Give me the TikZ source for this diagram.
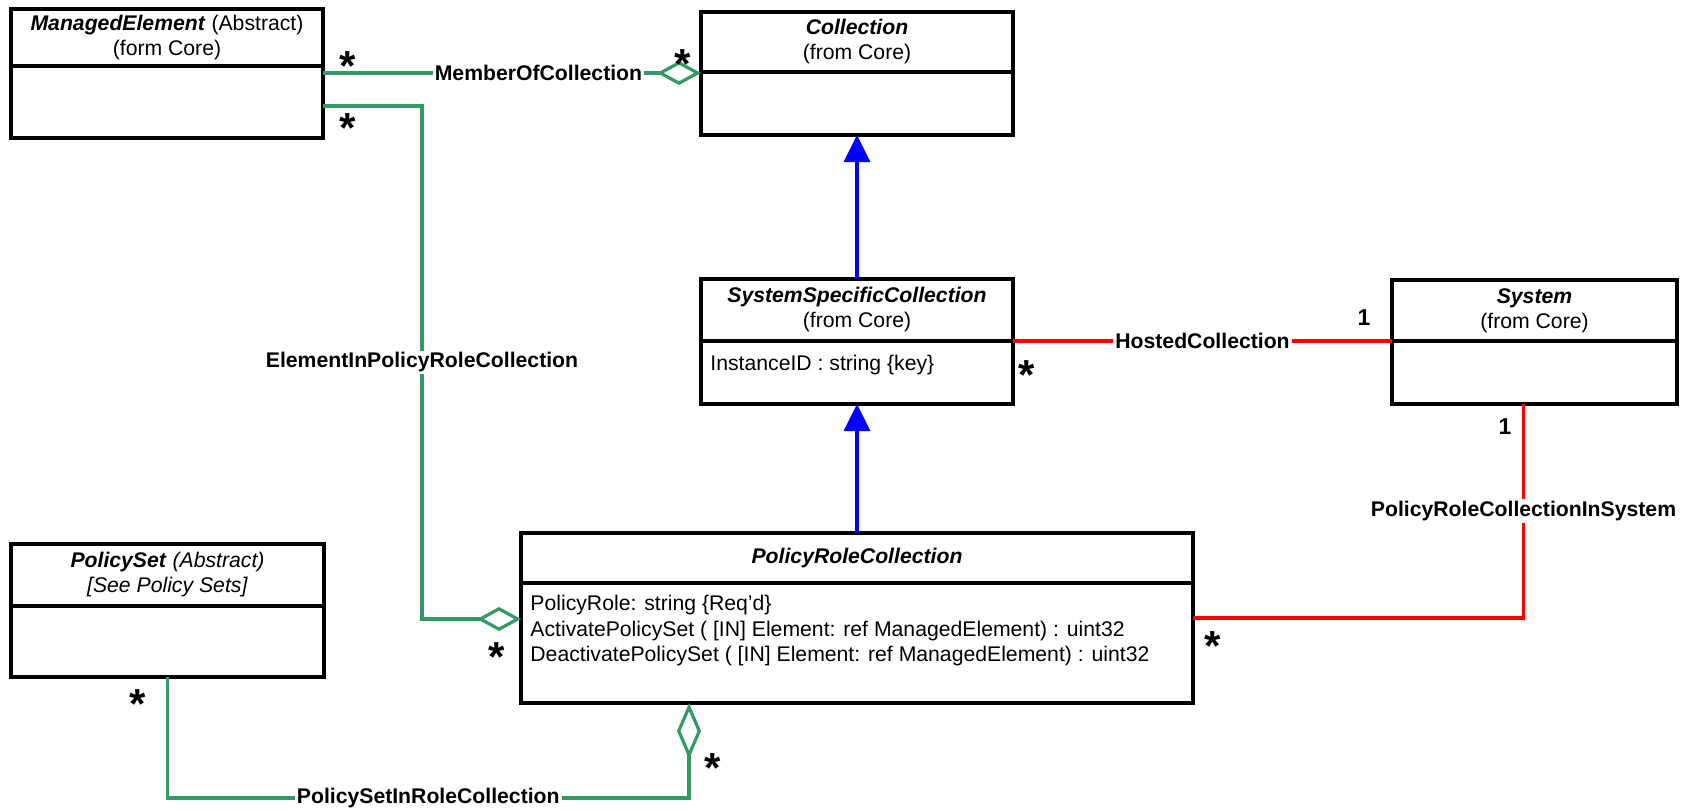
\documentclass[tikz,border=0pt]{standalone}
\usepackage{fontspec}
\setmainfont{Liberation Sans}
\usetikzlibrary{positioning,arrows.meta}
\definecolor{assocgreen}{RGB}{50,155,100}

\begin{document}
\begin{tikzpicture}[x=0.5pt, y=-0.5pt,
					node distance=0pt,
					class head/.style={draw, line width=1.7pt, outer sep=0pt, inner sep=0pt,
					  align=center, font=\fontsize{10.6}{12.5}\selectfont},
					class body/.style={draw, line width=1.7pt, outer sep=0pt},
					attr/.style={anchor=north west, inner sep=0pt, align=left,
					  font=\fontsize{10.6}{12.75}\selectfont},
					assoc label/.style={fill=white, inner sep=1pt, font=\bfseries\fontsize{10.6}{12}\selectfont},
					mult star/.style={inner sep=0pt, yshift=-4.1pt, font=\bfseries\fontsize{21}{21}\selectfont},
					mult one/.style={inner sep=0pt, font=\bfseries\fontsize{11.5}{12}\selectfont},
					green assoc/.style={draw=assocgreen, line width=1.6pt},
					red assoc/.style={draw=red, line width=1.6pt},
					aggr/.style={green assoc, -{Diamond[open, length=22pt, width=12pt]}},
					gen/.style={draw=blue, line width=1.6pt, -{Triangle[length=13.5pt, width=13pt]}}]

  \useasboundingbox (0,0) rectangle (1689,810);

  % classes
  \node[class head, minimum width=156pt, minimum height=28.5pt] (mehead) at (167,37.5)
    {\textbf{\textit{ManagedElement}} (Abstract)\\(form Core)};
  \node[class body, minimum width=156pt, minimum height=36pt, below=of mehead] (mebody) {};

  \node[class head, minimum width=156pt, minimum height=30pt] (collhead) at (857,42)
    {\textbf{\textit{Collection}}\\(from Core)};
  \node[class body, minimum width=156pt, minimum height=31.5pt, below=of collhead] (collbody) {};

  \node[class head, minimum width=156pt, minimum height=31pt] (sschead) at (857,310)
    {\textbf{\textit{SystemSpecificCollection}}\\(from Core)};
  \node[class body, minimum width=156pt, minimum height=31.5pt, below=of sschead] (sscbody) {};
  \node[attr] (sscattr) at ([xshift=4.5pt,yshift=-7pt]sscbody.north west) {InstanceID : string \{key\}};

  \node[class head, minimum width=142.5pt, minimum height=30.5pt] (syshead) at (1534.5,310.5)
    {\textbf{\textit{System}}\\(from Core)};
  \node[class body, minimum width=142.5pt, minimum height=31.5pt, below=of syshead] (sysbody) {};

  \node[class head, minimum width=156.5pt, minimum height=31pt] (pshead) at (167.5,575)
    {\textbf{\textit{PolicySet}} \textit{(Abstract)}\\\textit{[See Policy Sets]}};
  \node[class body, minimum width=156.5pt, minimum height=35.5pt, below=of pshead] (psbody) {};

  \node[class head, minimum width=336pt, minimum height=25pt] (prchead) at (857,558)
    {\textbf{\textit{PolicyRoleCollection}}};
  \node[class body, minimum width=336pt, minimum height=60pt, below=of prchead] (prcbody) {};
  \node[attr] (prcattr) at ([xshift=4.5pt,yshift=-6pt]prcbody.north west)
    {PolicyRole: string \{Req’d\}\\
     ActivatePolicySet ( [IN] Element: ref ManagedElement) : uint32\\
     DeactivatePolicySet ( [IN] Element: ref ManagedElement) : uint32};

  % inheritance
  \draw[gen] (sschead.north) -- (collbody.south);
  \draw[gen] (prchead.north) -- (sscbody.south);

  % associations
  \draw[aggr] ([yshift=-3.5pt]mebody.north east)
    -- node[assoc label, pos=.57] {MemberOfCollection} ([yshift=-0.5pt]collbody.north west);
  \draw[aggr] ([yshift=-2pt]mebody.east)
    -| node[assoc label, pos=.75] {ElementInPolicyRoleCollection} ([xshift=-49.5pt,yshift=-18pt]prcbody.north west)
    -- ([yshift=-18pt]prcbody.north west);
  \draw[red assoc] (sscbody.north east) -- node[assoc label] {HostedCollection} (sysbody.north west);
  \draw[red assoc] ([xshift=-5.5pt]sysbody.south)
    |- node[assoc label, pos=.25] {PolicyRoleCollectionInSystem} ([yshift=-17.5pt]prcbody.north east);
  \draw[green assoc, -{Diamond[open, length=28pt, width=12pt]}] (psbody.south) -- ++(0,121)
    -| node[assoc label, pos=.25] {PolicySetInRoleCollection} ([xshift=-84pt]prcbody.south);

  % multiplicities
  \node[mult star] (me star a) at ([xshift=12.5pt,yshift=4pt]mebody.north east) {*};
  \node[mult star] (me star b) at ([xshift=12.5pt,yshift=-27pt]mebody.north east) {*};
  \node[mult star] (coll star) at ([xshift=-9pt,yshift=8pt]collbody.north west) {*};
  \node[mult star] (prc star a) at ([xshift=-12pt,yshift=-33pt]prcbody.north west) {*};
  \node[mult star] (ssc star) at ([xshift=7pt,yshift=-13pt]sscbody.north east) {*};
  \node[mult one] (sys one a) at ([xshift=-14pt,yshift=11.5pt]sysbody.north west) {1};
  \node[mult one] (sys one b) at ([xshift=-14.75pt,yshift=-11.5pt]sysbody.south) {1};
  \node[mult star] (prc star b) at ([xshift=10pt,yshift=-27.5pt]prcbody.north east) {*};
  \node[mult star] (ps star) at ([xshift=-14.75pt,yshift=-9.5pt]psbody.south) {*};
  \node[mult star] (prc star c) at ([xshift=-72pt,yshift=-28.5pt]prcbody.south) {*};
\end{tikzpicture}
\end{document}
